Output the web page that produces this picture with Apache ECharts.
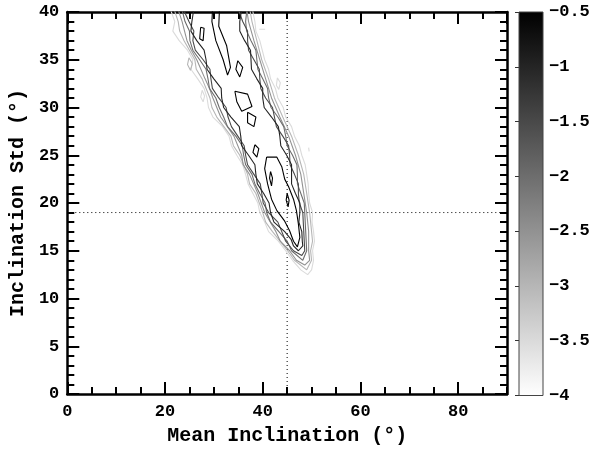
<!DOCTYPE html>
<html><head><meta charset="utf-8">
<script src="https://cdn.jsdelivr.net/npm/echarts@6/dist/echarts.min.js"></script>
<style>html,body{margin:0;padding:0;background:#fff}#c{width:604px;height:451px}</style>
</head><body><div id="c"></div>
<script>
// Contour levels (log-likelihood) and colour bar range
const levels = [-3.5, -3, -2.5, -2, -1.5, -1, -0.5];
const colorbarMin = -4, colorbarMax = -0.5;
const refMean = 45, refStd = 19;

// Contour polygons per level, [mean inclination, inclination std]
const contour_m35 = [
  [[20.6,41],[21.3,40],[22.0,39],[21.6,38],[22.9,37],[24.6,36],[25.7,35],[25.3,34],[26.7,33],[28.0,32],[28.6,31],[28.9,30],[29.8,29],[31.8,28],[33.1,27],[33.6,26],[34.7,25],[35.9,24],[36.5,23],[37.0,22],[38.0,21],[39.0,20],[39.4,19],[40.4,18],[41.2,17],[43.2,16],[44.7,15],[46.1,14],[47.8,13],[49.2,12.5],
   [50.0,13],[50.4,14],[50.2,15],[50.6,16],[50.4,17],[50.1,18],[50.2,19],[49.6,20],[49.4,21],[49.3,22],[49.0,23],[48.7,24],[48.0,25],[47.5,26],[46.5,27],[45.9,28],[44.7,29],[44.2,30],[43.1,31],[42.6,32],[41.6,33],[41.2,34],[40.4,35],[39.9,36],[39.4,37],[38.6,38],[38.4,39],[38.0,40],[37.8,41],[20.6,41]],
  [[27.6,31.8],[28.1,31.2],[27.8,30.6],[27.3,31.1],[27.6,31.8]],
  [[43.0,33.1],[43.6,32.6],[43.3,31.9],[42.8,32.3],[43.0,33.1]],
  [[39.3,38.2],[40.5,38.2]],
  [[49.4,25.8],[49.7,25.6],[49.5,25.4],[49.4,25.8]]
];
const contour_m30 = [
  [[21.4,41],[22.7,39],[23.0,38],[23.9,37],[26.1,35],[26.4,34],[27.6,33],[29.2,31],[29.6,30],[30.6,29],[33.5,27],[34.0,26],[35.3,25],[36.9,23],[37.3,22],[38.6,21],[40.0,19],[40.6,18],[42.0,17],[45.1,15],[46.5,14],[49.0,13.0],
   [50.0,14],[49.8,15],[50.2,16],[50.0,17],[49.6,19],[49.0,21],[48.4,23],[47.3,25],[45.9,27],[44.1,29],[42.4,31],[41.2,33],[39.8,35],[38.8,37],[37.8,39],[37.1,41],[21.4,41]],
  [[24.9,35.2],[25.6,34.6],[25.2,33.9],[24.6,34.5],[24.9,35.2]]
];
const contour_m25 = [
  [[22.2,41],[23.5,39],[24.5,37],[25.4,36],[26.5,35],[28.2,33],[29.1,32],[29.8,31],[31.4,29],[34.1,27],[35.7,25],[36.0,24],[37.3,23],[39.0,21],[40.4,19],[42.7,17],[43.6,16],[45.5,15],[46.9,14],[48.6,13.5],
   [49.6,14],[49.4,15],[49.4,17],[49.0,19],[48.4,21],[47.8,23],[46.7,25],[45.3,27],[44.4,28],[43.5,29],[41.8,31],[40.6,33],[39.4,35],[38.2,37],[37.1,39],[36.5,41],[22.2,41]]
];
const contour_m20 = [
  [[23.1,41],[24.1,39],[25.0,38],[25.1,37],[25.7,36],[27.1,35],[28.4,34],[28.8,33],[29.1,32],[30.4,31],[31.1,30],[32.0,29],[32.8,28],[34.5,27],[35.8,26],[36.1,25],[36.5,24],[37.8,23],[38.4,22],[39.4,21],[40.5,20],[40.8,19],[41.6,18],[43.3,17],[45.0,16],[45.9,15],[48.2,14.0],
   [49.0,15],[48.8,17],[48.7,18],[48.6,19],[48.5,20],[47.8,21],[47.1,22],[47.1,23],[47.0,24],[46.1,25],[45.0,26],[44.7,27],[44.3,28],[43.1,29],[41.7,30],[41.2,31],[41.0,32],[40.0,33],[39.0,34],[38.8,35],[38.6,36],[37.6,37],[36.7,38],[36.5,39],[36.7,40],[35.9,41],[23.1,41]]
];
const contour_m15 = [
  [[23.9,41],[24.0,40],[24.9,39],[25.9,38],[25.7,37],[26.2,36],[27.8,35],[29.2,34],[29.4,33],[29.7,32],[31.0,31],[32.5,30],[32.9,29],[33.6,28],[34.9,27],[36.2,26],[36.5,25],[36.9,24],[38.2,23],[39.5,22],[39.8,21],[40.1,20],[41.2,19],[43.1,18],[43.9,17],[44.7,16],[46.3,15],[48.0,14.5],
   [48.6,15],[48.5,16],[48.4,17],[48.3,18],[48.2,19],[47.5,20],[47.3,21],[47.3,22],[46.5,23],[45.6,24],[45.5,25],[45.3,26],[44.1,27],[42.8,28],[42.4,29],[42.0,30],[40.6,31],[39.6,32],[39.4,33],[39.3,34],[38.2,35],[37.1,36],[36.9,37],[36.9,38],[35.9,39],[35.2,40],[35.3,41],[23.9,41]]
];
const contour_m10 = [
  [[24.7,41],[25.8,40],[25.5,39],[25.3,38],[26.5,37],[28.0,36],[28.4,35],[28.6,34],[30.0,33],[31.5,32],[31.6,31],[32.0,30],[33.5,29],[35.2,28],[35.5,27],[35.7,26],[37.1,25],[38.4,24],[38.6,23],[38.9,22],[40.2,21],[41.3,20],[41.6,19],[42.3,18],[44.5,17],[45.8,16.2],[46.3,15.5],[47.3,15.0],
   [48.2,15.5],[48.1,16],[48.0,17],[47.4,18],[47.6,19],[47.6,20],[46.7,21],[45.9,22],[45.9,23],[45.9,24],[44.9,25],[43.7,26],[43.5,27],[43.2,28],[41.8,29],[40.3,30],[40.0,31],[40.0,32],[38.8,33],[37.7,34],[37.6,35],[37.5,36],[36.3,37],[35.3,38],[35.3,39],[35.6,40],[34.7,41],[24.7,41]]
];
const contour_m05 = [
  [[40.8,24.8],[42.9,24.8],[43.9,23.8],[44.5,22.5],[45.3,21.7],[46.3,20.4],[46.9,19.2],[47.3,17.8],[47.6,16.4],[47.1,15.4],[46.3,16.0],[45.5,17.1],[44.5,18.1],[42.9,19.2],[41.8,20.4],[41.0,22.0],[40.4,23.6],[40.8,24.8]],
  [[29.8,41],[31.2,41],[31.0,38.5],[32.6,36.5],[33.4,34.2],[32.8,33.4],[31.9,35.0],[30.4,37.0],[29.6,39.0],[29.8,41]],
  [[34.9,34.9],[35.9,34.2],[35.3,33.2],[34.5,34.0],[34.9,34.9]],
  [[34.3,31.7],[36.9,31.4],[37.8,30.1],[35.7,29.6],[34.7,30.6],[34.3,31.7]],
  [[36.9,29.5],[38.6,29.0],[38.2,28.0],[36.9,28.4],[36.9,29.5]],
  [[27.3,38.4],[28.0,38.3],[27.8,37.0],[27.1,37.2],[27.3,38.4]],
  [[38.4,26.1],[39.2,25.7],[38.8,24.8],[38.0,25.3],[38.4,26.1]],
  [[41.6,23.3],[42.0,22.6],[41.8,21.8],[41.4,22.6],[41.6,23.3]],
  [[45.0,21.0],[45.4,20.3],[45.2,19.6],[44.8,20.3],[45.0,21.0]]
];
const contoursByLevel = [contour_m35, contour_m30, contour_m25, contour_m20, contour_m15, contour_m10, contour_m05];

function levelColor(v) {
  const t = (v - colorbarMax) / (colorbarMin - colorbarMax);
  const g = Math.round(255 * t);
  return 'rgb(' + g + ',' + g + ',' + g + ')';
}

const FONT = 'Liberation Mono';
const tickFont = { fontFamily: FONT, fontWeight: 'bold', fontSize: 17, color: '#000' };
const nameFont = { fontFamily: FONT, fontWeight: 'bold', fontSize: 20, color: '#000' };
const blk = { color: '#000', width: 2 };

const series = [];
contoursByLevel.forEach((polys, i) => {
  polys.forEach(p => {
    series.push({
      type: 'line', xAxisIndex: 0, yAxisIndex: 0, data: p,
      symbol: 'none', showSymbol: false, silent: true, clip: true,
      lineStyle: { color: levelColor(levels[i]), width: 1.1 }, z: 2 + i
    });
  });
});
series.push({ type: 'line', xAxisIndex: 0, yAxisIndex: 0, data: [[refMean, 0], [refMean, 40]], symbol: 'none', silent: true,
  lineStyle: { color: '#000', width: 1, type: [1, 3] }, z: 1 });
series.push({ type: 'line', xAxisIndex: 0, yAxisIndex: 0, data: [[0, refStd], [90, refStd]], symbol: 'none', silent: true,
  lineStyle: { color: '#000', width: 1, type: [1, 3] }, z: 1 });
series.push({
  type: 'custom', xAxisIndex: 4, yAxisIndex: 2, silent: true,
  data: [[0, colorbarMin, colorbarMax]], encode: { x: 0, y: [1, 2] },
  renderItem: function (params, api) {
    const p0 = api.coord([0, api.value(2)]);
    const p1 = api.coord([1, api.value(1)]);
    return { type: 'rect', shape: { x: p0[0], y: p0[1], width: p1[0] - p0[0], height: p1[1] - p0[1] },
      style: { fill: new echarts.graphic.LinearGradient(0, 0, 0, 1, [{ offset: 0, color: '#000' }, { offset: 1, color: '#fff' }]),
        stroke: '#444', lineWidth: 1 } };
  }
});

function xAx(pos, interval, major, withLabel) {
  return {
    gridIndex: 0, type: 'value', position: pos, min: 0, max: 90, interval: interval,
    axisLine: { show: major, onZero: false, lineStyle: { color: '#000', width: 2.5 } },
    axisTick: { show: true, inside: true, length: major ? 12 : 7, lineStyle: blk },
    axisLabel: Object.assign({ show: withLabel, margin: 9, showMaxLabel: false }, tickFont),
    splitLine: { show: false },
    name: withLabel ? 'Mean Inclination (°)' : '', nameLocation: 'middle', nameGap: 32, nameTextStyle: nameFont
  };
}
function yAx(pos, withLabel) {
  return {
    gridIndex: 0, type: 'value', position: pos, min: 0, max: 40, interval: 5,
    axisLine: { show: true, onZero: false, lineStyle: { color: '#000', width: 2.5 } },
    axisTick: { show: true, inside: true, length: 12, lineStyle: blk },
    minorTick: { show: true, splitNumber: 5, length: 7, lineStyle: blk },
    axisLabel: Object.assign({ show: withLabel, margin: 8 }, tickFont),
    splitLine: { show: false },
    name: withLabel ? 'Inclination Std (°)' : '', nameLocation: 'middle', nameGap: 34, nameRotate: 90, nameTextStyle: nameFont
  };
}

const chart = echarts.init(document.getElementById('c'), null, { renderer: 'canvas' });
chart.setOption({
  animation: false,
  backgroundColor: '#fff',
  grid: [
    { left: 64, top: 12, width: 443, height: 383.5 },
    { left: 519, top: 12, width: 24, height: 383.5 }
  ],
  xAxis: [
    xAx('bottom', 20, true, true),
    xAx('bottom', 5, false, false),
    xAx('top', 20, true, false),
    xAx('top', 5, false, false),
    { gridIndex: 1, type: 'value', min: 0, max: 1, show: false }
  ],
  yAxis: [
    yAx('left', true),
    yAx('right', false),
    {
      gridIndex: 1, type: 'value', position: 'right', min: colorbarMin, max: colorbarMax, interval: 0.5,
      axisLine: { show: false },
      axisTick: { show: true, inside: true, length: 4, lineStyle: { color: '#333', width: 1 } },
      axisLabel: Object.assign({ margin: 6, formatter: v => String(v).replace('-', '\u2212') }, tickFont),
      splitLine: { show: false }
    }
  ],
  series: series
});
</script></body></html>
